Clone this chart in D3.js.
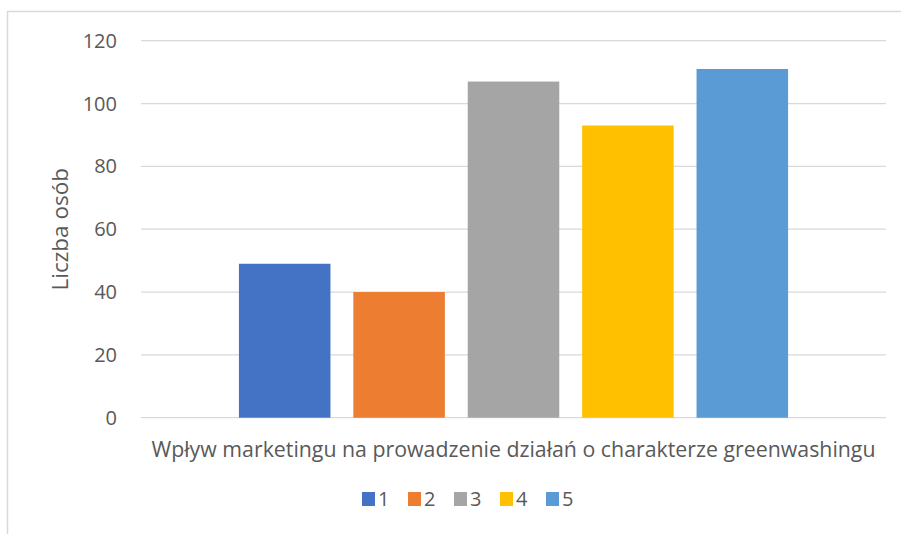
<!DOCTYPE html>
<html>
<head>
<meta charset="utf-8">
<script src="https://cdn.jsdelivr.net/npm/d3@7"></script>
<style>
  body { margin: 0; background: #fff; }
  svg text { font-family: "Open Sans", "Noto Sans", sans-serif; fill: #595959; }
</style>
</head>
<body>
<div id="plot"></div>
<script>
// data
const category = 'Wpływ marketingu na prowadzenie działań o charakterze greenwashingu';
const seriesNames = ['1', '2', '3', '4', '5'];
const seriesValues = [49, 40, 107, 93, 111];
const seriesColors = ['#4472C4', '#ED7D31', '#A5A5A5', '#FFC000', '#5B9BD5'];
const yTicks = [0, 20, 40, 60, 80, 100, 120];
const yLabel = 'Liczba osób';

const width = 901;
const height = 534;
const plot = {left: 141, right: 886, top: 40.7, bottom: 417.7};

const svg = d3.select('#plot')
    .append('svg')
    .attr('width', width)
    .attr('height', height);

// chart frame (only top and left edges are in view)
svg.append('path')
    .attr('d', `M7.5,${height}V11.5H${width}`)
    .attr('fill', 'none')
    .attr('stroke', '#d9d9d9')
    .attr('stroke-width', 1.5);

const y = d3.scaleLinear().domain([0, 120]).range([plot.bottom, plot.top]);

const x = d3.scaleBand()
    .domain(seriesNames)
    .range([plot.left, plot.right])
    .paddingInner(0.2)
    .paddingOuter(0.856);

// gridlines
svg.append('g')
    .selectAll('line')
    .data(yTicks)
    .join('line')
    .attr('x1', plot.left)
    .attr('x2', plot.right)
    .attr('y1', d => y(d))
    .attr('y2', d => y(d))
    .attr('stroke', '#d9d9d9')
    .attr('stroke-width', 1.3);

// tick labels
svg.append('g')
    .selectAll('text')
    .data(yTicks)
    .join('text')
    .attr('x', 117)
    .attr('y', d => y(d))
    .attr('dy', '0.35em')
    .attr('text-anchor', 'end')
    .attr('font-size', '20px')
    .text(d => d);

// bars
svg.append('g')
    .selectAll('rect')
    .data(seriesValues)
    .join('rect')
    .attr('x', (d, i) => x(seriesNames[i]))
    .attr('y', d => y(d))
    .attr('width', x.bandwidth())
    .attr('height', d => y(0) - y(d))
    .attr('fill', (d, i) => seriesColors[i]);

// axis titles
svg.append('text')
    .attr('transform', `translate(68,${(plot.top + plot.bottom) / 2}) rotate(-90)`)
    .attr('text-anchor', 'middle')
    .attr('font-size', '22.5px')
    .text(yLabel);

svg.append('text')
    .attr('x', (plot.left + plot.right) / 2)
    .attr('y', 449)
    .attr('dy', '0.35em')
    .attr('text-anchor', 'middle')
    .attr('font-size', '21.5px')
    .attr('textLength', 724)
    .attr('lengthAdjust', 'spacingAndGlyphs')
    .text(category);

// legend
const legendStep = 46;
const legendLeft = 362;
const legend = svg.append('g')
    .selectAll('g')
    .data(seriesNames)
    .join('g')
    .attr('transform', (d, i) => `translate(${legendLeft + i * legendStep},499)`);

legend.append('rect')
    .attr('x', 0)
    .attr('y', -7)
    .attr('width', 13)
    .attr('height', 14)
    .attr('fill', (d, i) => seriesColors[i]);

legend.append('text')
    .attr('x', 16)
    .attr('y', 0)
    .attr('dy', '0.35em')
    .attr('font-size', '20px')
    .text(d => d);
</script>
</body>
</html>
